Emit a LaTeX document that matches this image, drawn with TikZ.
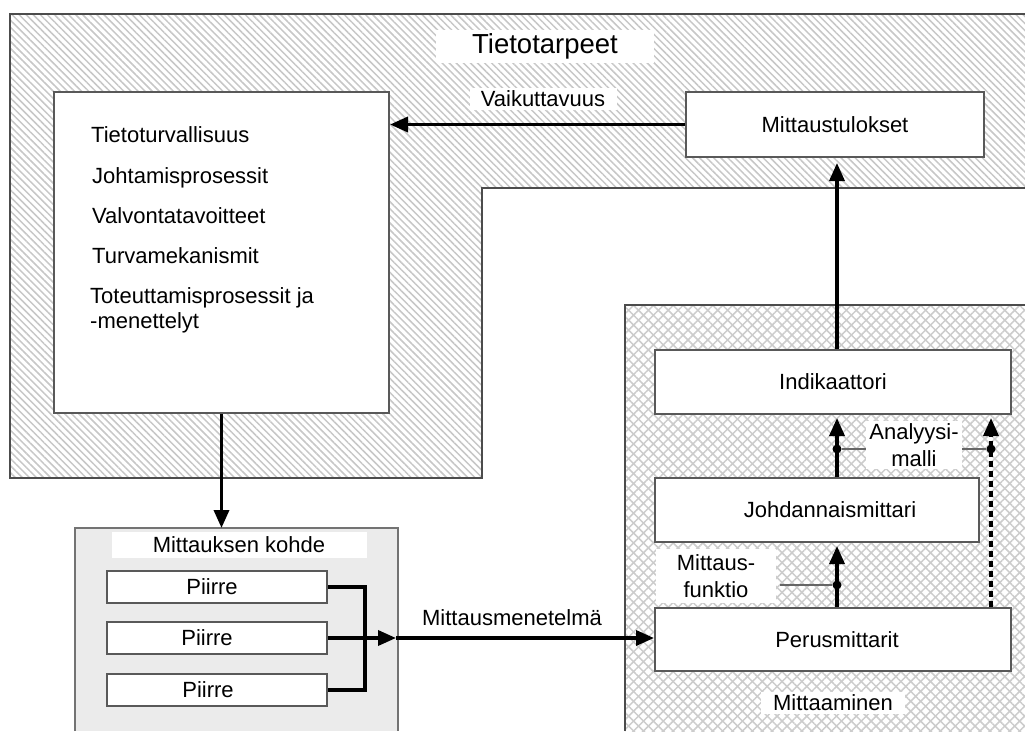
\documentclass[tikz,border=0pt]{standalone}
\usepackage{fontspec}
\setmainfont{Liberation Sans}
\usetikzlibrary{arrows.meta,patterns.meta}

\begin{document}
\begin{tikzpicture}[x=1pt,y=-1pt,
  txt/.style={font=\fontsize{22}{25}\selectfont, inner sep=0pt},
  box/.style={draw=black!65, line width=2pt, fill=white, inner sep=0pt,
              font=\fontsize{22}{26}\selectfont},
  tag/.style={fill=white, inner sep=0pt, align=center,
              font=\fontsize{22}{27.5}\selectfont},
  region/.style={draw=black!70, line width=2.5pt},
  arr/.style={line width=3.5pt, -{Triangle[length=18pt,width=15pt]}},
  link/.style={line width=3.5pt},
  thinlink/.style={draw=black!60, line width=2pt},
  joint/.style={circle, fill=black, inner sep=0pt, minimum size=9pt},
]
\useasboundingbox (0,0) rectangle (1025,731);
\fill[white] (0,0) rectangle (1025,731);

% Tietotarpeet: hatched frame
\path[pattern={Lines[angle=-45,distance=5pt,line width=1.5pt]}, pattern color=black!22]
  (10,14) -- (1025,14) -- (1025,188) -- (482,188) -- (482,478) -- (10,478) -- cycle;
\draw[region] (1025,14) -- (10,14) -- (10,478) -- (482,478) -- (482,188) -- (1025,188);

% Mittaaminen: cross-hatched area
\path[pattern={Lines[angle=45,distance=7pt,line width=1.5pt]}, pattern color=black!20]
  (625,305) rectangle (1025,731);
\path[pattern={Lines[angle=-45,distance=7pt,line width=1.5pt]}, pattern color=black!20]
  (625,305) rectangle (1025,731);
\draw[region] (625,731) -- (625,305) -- (1025,305);

% Mittauksen kohde: grey area
\fill[black!8] (75,528) rectangle (398,731);
\draw[region, draw=black!55, line width=2pt] (75,731) -- (75,528) -- (398,528) -- (398,731);

% boxes
\node[box, minimum width=335pt, minimum height=321pt] (tav) at (221.5,252.5) {};
\node[box, minimum width=298pt, minimum height=65pt] (mt) at (835,124.5) {Mittaustulokset};
\node[box, minimum width=356pt, minimum height=64pt] (ind) at (833,382) {Indikaattori};
\node[box, minimum width=324pt, minimum height=64pt] (johd) at (817,510) {\hspace*{26pt}Johdannaismittari};
\node[box, minimum width=356pt, minimum height=63pt] (perus) at (833,639.5) {\hspace*{8pt}Perusmittarit};
\node[box, minimum width=220pt, minimum height=32pt] (p1) at (217,587) {\hspace*{-10pt}Piirre};
\node[box, minimum width=220pt, minimum height=32pt] (p2) at (217,638) {\hspace*{-20pt}Piirre};
\node[box, minimum width=220pt, minimum height=32pt] (p3) at (217,690) {\hspace*{-18pt}Piirre};

% list inside the left box
\node[txt, anchor=base west] (t1) at (91,142) {Tietoturvallisuus};
\node[txt, anchor=base west] (t2) at (92,183) {Johtamisprosessit};
\node[txt, anchor=base west] (t3) at (92,223) {Valvontatavoitteet};
\node[txt, anchor=base west] (t4) at (92,263) {Turvamekanismit};
\node[txt, anchor=base west] (t5) at (90,303) {Toteuttamisprosessit ja};
\node[txt, anchor=base west] (t6) at (90,328) {-menettelyt};

% connectors
\coordinate (kohde) at (221.5,528);
\coordinate (vx) at (837,0);
\coordinate (dx) at (991,0);
\coordinate (mx) at (365,0);
\coordinate (mj) at (396,638);

\draw[arr] (mt.west) -- (mt.west -| tav.east);
\draw[arr] (tav.south) -- (kohde);
\draw[arr, shorten >=5pt] (vx |- ind.north) -- (vx |- mt.south);
\draw[arr, shorten >=3pt] (vx |- johd.north) -- (vx |- ind.south);
\draw[arr, shorten >=3pt] (vx |- perus.north) -- (vx |- johd.south);
\draw[arr, dash pattern=on 6pt off 4pt, shorten >=3pt] (dx |- perus.north) -- (dx |- ind.south);

\draw[link] (p1.east) -- (p1.east -| mx) -- (p3.east -| mx) -- (p3.east);
\draw[arr] (p2.east) -- (mj);
\draw[arr] (mj) -- (mj -| perus.west);

% model and function markers
\node[joint] (aj1) at (837,449) {};
\node[joint] (aj2) at (991,449) {};
\node[joint] (fj) at (837,585) {};
\draw[thinlink] (aj1) -- (aj2);

% labels
\node[tag, font=\fontsize{27.5}{30}\selectfont, minimum width=218pt, minimum height=33pt] (title) at (545,46) {Tietotarpeet};
\node[tag, minimum width=147pt, minimum height=22pt] (vaik) at (543,99) {Vaikuttavuus};
\node[tag, fill=none] (menet) at (512,618) {Mittausmenetelmä};
\node[tag, minimum width=255pt, minimum height=26pt] (kohdelbl) at (239,545) {Mittauksen kohde};
\node[tag, minimum width=96pt, minimum height=48pt] (am) at (914,445) {Analyysi-\\malli};
\node[tag, minimum width=120pt, minimum height=54pt] (mf) at (716,576) {Mittaus-\\funktio};
\node[tag, minimum width=144pt, minimum height=22pt] (mlbl) at (833,703) {Mittaaminen};
\draw[thinlink, shorten >=4pt] (fj) -- (fj -| mf.east);
\end{tikzpicture}
\end{document}
